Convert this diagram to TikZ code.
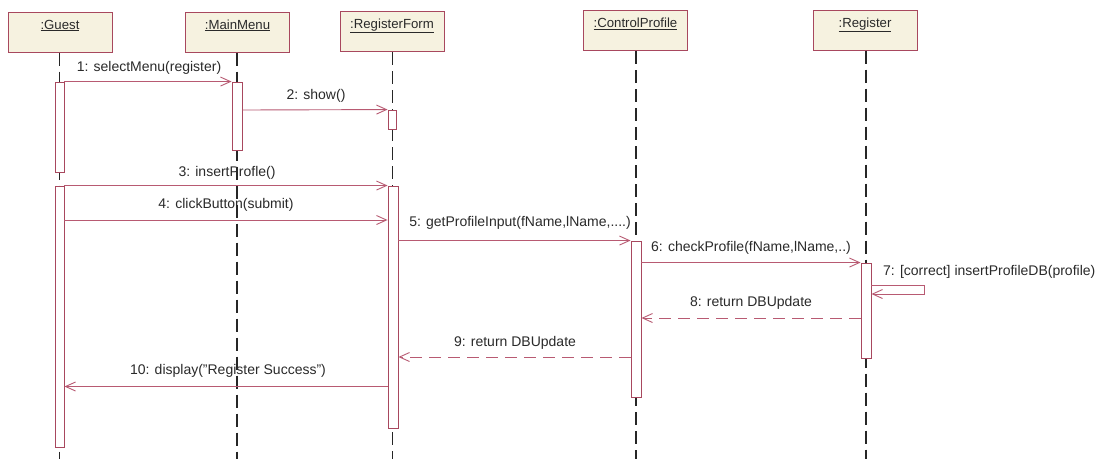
\documentclass[tikz,border=0pt]{standalone}
\usepackage{fontspec}
\setmainfont{Liberation Sans}
\usetikzlibrary{arrows.meta}
\definecolor{headfill}{HTML}{F6F2E0}
\definecolor{edge}{HTML}{A8485E}
\definecolor{msgcol}{HTML}{B85A72}
\definecolor{txt}{HTML}{2A2A2A}
\begin{document}
\begin{tikzpicture}[x=1pt,y=-1pt,
  head/.style={draw=edge,fill=headfill,line width=1pt,minimum width=104pt,minimum height=40pt,inner sep=6pt,
    text height=11pt,text depth=17pt,font=\fontsize{13.2}{15}\selectfont,text=txt},
  act/.style={draw=edge,fill=white,line width=0.9pt,minimum width=9pt,inner sep=0pt},
  life/.style={draw=black!85,line width=1.1pt,dash pattern=on 13pt off 6pt},
  msg/.style={draw=msgcol,line width=0.9pt,-{Straight Barb[length=10pt,width=9pt,line width=0.9pt]}},
  ret/.style={msg,dash pattern=on 12pt off 7pt},
  lbl/.style={font=\fontsize{14}{16}\selectfont,text=txt,inner sep=0pt}]
\useasboundingbox (0,0) rectangle (1097,459);
\fill[white] (0,0) rectangle (1097,459);
% heads
\node[head] (guest) at (60,32) {\underline{:Guest}};
\node[head] (menu) at (237.5,32) {\underline{:MainMenu}};
\node[head] (form) at (392,31.5) {\underline{:RegisterForm}};
\node[head] (ctrl) at (635.5,30.5) {\underline{:ControlProfile}};
\node[head] (reg) at (865,30) {\underline{:Register}};
% lifeline ends
\coordinate (gend) at (59.5,459);
\coordinate (mend) at (237,459);
\coordinate (fend) at (392.5,459);
\coordinate (cend) at (636,459);
\coordinate (rend) at (866,459);
\draw[life] (guest.south -| gend) -- (gend);
\draw[life] (menu.south -| mend) -- (mend);
\draw[life] (form.south -| fend) -- (fend);
\draw[life] (ctrl.south -| cend) -- (cend);
\draw[life] (reg.south -| rend) -- (rend);
% activations
\node[act,minimum height=90pt] (g1) at (59.5,127) {};
\node[act,minimum height=261pt] (g2) at (59.5,316.5) {};
\node[act,minimum width=10pt,minimum height=68pt] (m1) at (237,116) {};
\node[act,minimum width=8pt,minimum height=19pt] (f1) at (392,119.5) {};
\node[act,minimum width=10pt,minimum height=242pt] (f2) at (393,307) {};
\node[act,minimum width=10pt,minimum height=156pt] (c1) at (636,319) {};
\node[act,minimum width=10pt,minimum height=95pt] (r1) at (866,310.5) {};
% y levels
\coordinate (y2) at (0,110);
\coordinate (y4) at (0,220);
\coordinate (y7a) at (0,285);
\coordinate (y7b) at (0,294);
\coordinate (y8) at (0,318);
\coordinate (y9) at (0,357);
\coordinate (y10) at (0,386.5);
\coordinate (loop7a) at (924,285);
\coordinate (loop7b) at (924,294);
% messages
\draw[msg] (g1.north east) -- (m1.north west);
\node[lbl] at (149,68) {1: selectMenu(register)};
\draw[msg] (m1.east |- y2) -- (f1.north west);
\node[lbl] at (316,96) {2: show()};
\draw[msg] (g2.north east) -- (f2.north west);
\node[lbl] at (227,173) {3: insertProfle()};
\draw[msg] (g2.east |- y4) -- (f2.west |- y4);
\node[lbl] at (226,205) {4: clickButton(submit)};
\draw[msg] (f2.east |- c1.north) -- (c1.north west);
\node[lbl] at (520,223) {5: getProfileInput(fName,lName,....)};
\draw[msg] (c1.east |- r1.north) -- (r1.north west);
\node[lbl] at (751,247.5) {6: checkProfile(fName,lName,..)};
\draw[msg] (r1.east |- y7a) -- (loop7a) -- (loop7b) -- (r1.east |- y7b);
\node[lbl,anchor=west] at (883,272) {7: [correct] insertProfileDB(profile)};
\draw[ret] (r1.west |- y8) -- (c1.east |- y8);
\node[lbl] at (751,303) {8: return DBUpdate};
\draw[ret] (c1.west |- y9) -- (f2.east |- y9);
\node[lbl] at (515,343) {9: return DBUpdate};
\draw[msg] (f2.west |- y10) -- (g2.east |- y10);
\node[lbl] at (228,371) {10: display("Register Success")};
\end{tikzpicture}
\end{document}
